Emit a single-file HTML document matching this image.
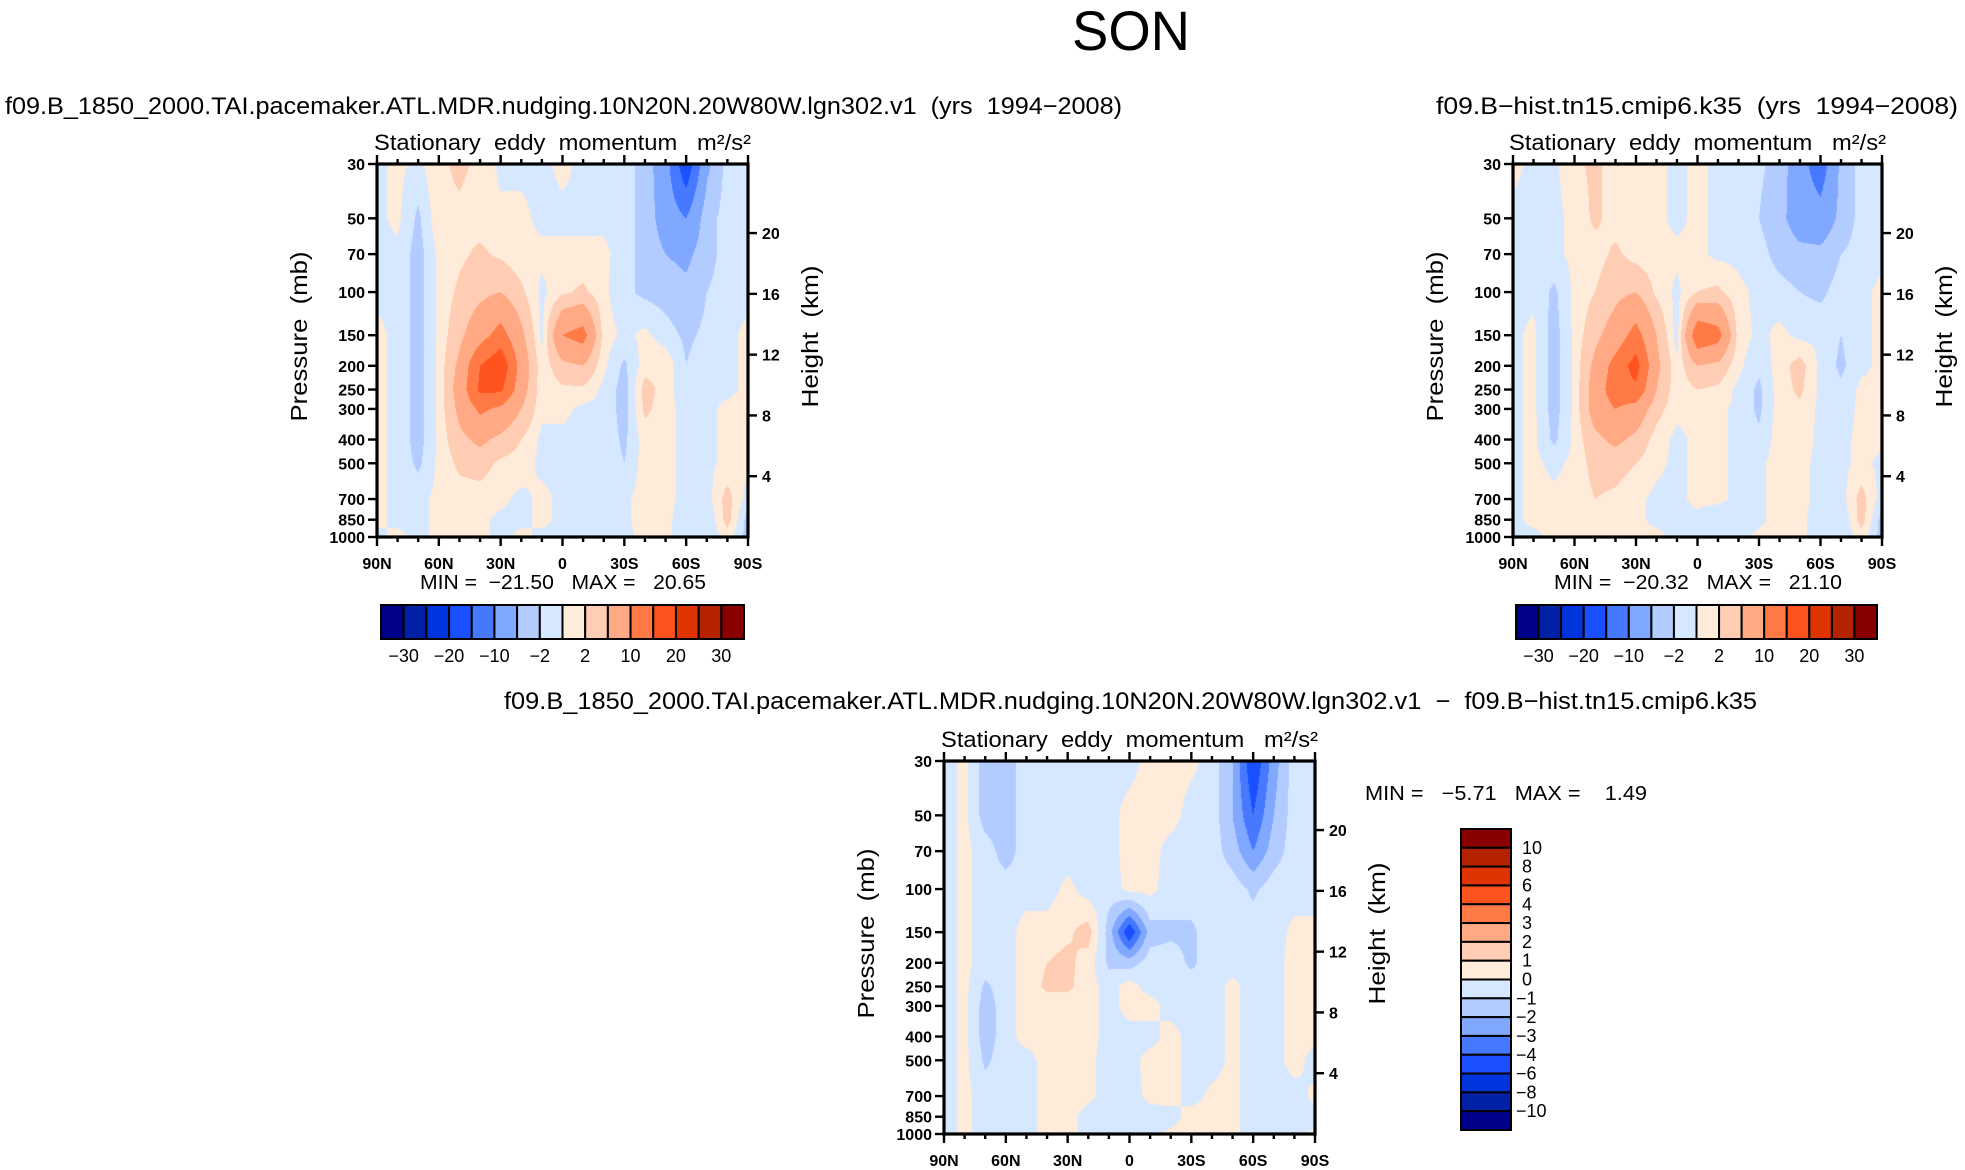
<!DOCTYPE html>
<html><head><meta charset="utf-8"><title>SON stationary eddy momentum</title>
<style>
html,body{margin:0;padding:0;background:#fff;}
#wrap{position:relative;width:1965px;height:1170px;overflow:hidden;background:#fff;}
canvas{position:absolute;}
svg{position:absolute;left:0;top:0;}
text{font-family:"Liberation Sans",sans-serif;fill:#000;white-space:pre;}
</style></head>
<body>
<div id="wrap">
<canvas id="c1" width="371" height="373" style="left:377px;top:164px"></canvas>
<canvas id="c2" width="369" height="373" style="left:1513px;top:164px"></canvas>
<canvas id="c3" width="371" height="373" style="left:944px;top:761px"></canvas>
<svg id="ov" width="1965" height="1170"></svg>
</div>
<script>
// ---------- data ----------
const lats = [90,80,70,60,50,40,30,20,10,0,-10,-20,-30,-40,-50,-60,-70,-80,-90];
const plev = [30,50,70,100,150,200,250,300,400,500,700,850,1000];
const presTicks = [30,50,70,100,150,200,250,300,400,500,700,850,1000];
const kmTicks = [4,8,12,16,20];
const latTickVals = [90,60,30,0,-30,-60,-90];
const latTickLabels = ["90N","60N","30N","0","30S","60S","90S"];
const absLevels = [-30,-25,-20,-15,-10,-5,-2,0,2,5,10,15,20,25,30];
const absLabels = ["\u221230","\u221220","\u221210","\u22122","2","10","20","30"];
const diffLevels = [-10,-8,-6,-4,-3,-2,-1,0,1,2,3,4,6,8,10];
const diffLabels = ["10","8","6","4","3","2","1","0","\u22121","\u22122","\u22123","\u22124","\u22126","\u22128","\u221210"];
const palette = ["#00008a","#0020a5","#0034dc","#1a50ff","#4679ff","#80a8ff","#b3ccff","#d6e8ff","#ffebd9","#ffcdb3","#ffaa85","#ff7a45","#ff531e","#e03400","#b52200","#8a0000"];

const field1 = [
[-0.5,0.5,-0.5,1.5,2.5,1.5,-0.5,-0.5,-0.5,0.5,-0.5,-0.5,-1,-3,-8,-19,-6,-1,-0.5],
[-0.5,0.5,-2.5,1.5,1.5,1,0.5,0.5,-0.5,-0.5,-0.5,-0.5,-1,-3,-7,-10,-3,-1,-0.5],
[-0.5,-0.5,-3,0.5,1.5,2.5,1.5,0.5,0.5,0.5,0.5,0.5,-1,-3,-5,-6,-3,-1,-0.5],
[-0.5,-0.5,-3,0.5,2.5,4,5,2.5,-0.5,1.5,2.5,0.5,-1.5,-2.5,-3,-4,-2,-1,-0.5],
[0.5,-0.5,-3,0.5,4,8,12,6,-0.5,10,12,1,-0.5,0.5,-1,-2.5,-1.5,-0.5,0.5],
[0.5,-0.5,-3,0.5,6,15,19,8,0.5,4,5,0.5,-2.5,1,1.5,-2,-0.5,-0.5,0.5],
[0.5,-0.5,-3,0.5,7,16,16,7,0.5,1.5,1.5,-0.5,-3,3,1,-1.5,-0.5,-0.5,0.5],
[0.5,-0.5,-3,0.5,6,11,9,5,0.5,0.5,-0.5,-0.5,-3,2.5,1,-1,-0.5,0.5,0.5],
[0.5,-0.5,-3,0.5,4,6,4,2,-0.5,-0.5,-0.5,-0.5,-2.5,1,0.5,-0.5,-0.5,0.5,0.5],
[0.5,-0.5,-2.5,0.5,2.5,3,1.5,1,-0.5,-0.5,-0.5,-0.5,-2,1,0.5,-0.5,-0.5,0.5,0.5],
[0.5,-0.5,-0.5,0.5,1,1,0.5,-0.5,0.5,-0.5,-0.5,-0.5,-0.5,1,0.5,-0.5,-1,3,-1],
[0.5,-0.5,-0.5,0.5,0.5,0.5,-0.5,-0.5,0.5,-0.5,-1.5,-1.5,-0.5,1,0.5,-1,-2,3,-3],
[-0.5,0.5,-0.5,0.5,0.5,0.5,-0.5,0.5,-0.5,-0.5,-0.5,-0.5,-0.5,0.5,0.5,-1,-2,1,-3]
];
const field2 = [
[0.5,-0.5,-0.5,1.5,2.5,1,0.5,0.5,-0.5,0.5,-0.5,-0.5,-1.5,-3,-8,-13,-4,-1,-0.5],
[-0.5,-0.5,-0.5,0.5,2.5,1,0.5,0.5,-0.5,0.5,-0.5,-0.5,-2,-4,-7,-8,-4,-1,-0.5],
[-0.5,-0.5,-0.5,0.5,1,2.5,1,0.5,0.5,0.5,-0.5,-0.5,-1,-3,-4,-4,-2,-1,-0.5],
[-0.5,-0.5,-2.5,0.5,2,4,5,1.5,-0.5,2,2.5,0.5,-0.5,-1,-2,-2.5,-1,-0.5,0.5],
[-0.5,0.5,-3,0.5,4,7,12,5,-1,14,12,1,-0.5,0.5,-0.5,-0.5,-2,-0.5,0.5],
[-0.5,0.5,-3,0.5,6,12,17,6,0.5,5,4,0.5,-1.5,1,3,-0.5,-2.5,-0.5,0.5],
[-0.5,0.5,-3,0.5,7,13,14,5,0.5,2,1.5,-0.5,-2.5,1,2.5,-0.5,-1.5,0.5,0.5],
[-0.5,0.5,-3,0.5,7,10,8,3,0.5,0.5,0.5,-0.5,-2.5,1,1.5,-0.5,-1,0.5,0.5],
[-0.5,0.5,-2.5,0.5,4,6,4,1,-0.5,0.5,0.5,-0.5,-1.5,1,1,-0.5,-0.5,0.5,0.5],
[-0.5,0.5,-0.5,0.5,3,3,2,0.5,-0.5,0.5,0.5,-0.5,-0.5,1,0.5,-0.5,-0.5,0.5,-0.5],
[-0.5,0.5,0.5,0.5,2,1.5,0.5,-0.5,-0.5,0.5,0.5,-0.5,-0.5,1,0.5,-0.5,-1,3,-1],
[-0.5,0.5,0.5,0.5,0.5,0.5,0.5,-0.5,-0.5,-0.5,-1.5,-1.5,-0.5,1,0.5,-1,-2,3,-3],
[-0.5,-0.5,0.5,0.5,0.5,0.5,0.5,0.5,-0.5,-0.5,-0.5,-0.5,0.5,0.5,0.5,-1,-2,1,-3]
];
const fieldDiff = [
[-0.5,0.3,-1.5,-1.5,-0.5,-0.5,-0.5,-0.5,-0.5,-0.5,0.5,0.5,0.3,-0.5,-2,-5,-2.5,-0.5,-0.5],
[-0.5,0.3,-1.5,-1.5,-0.5,-0.5,-0.5,-0.5,-0.5,0.5,0.5,0.5,-0.5,-0.5,-2,-4,-2,-0.5,-0.5],
[-0.5,0.3,-0.5,-1.5,-0.5,-0.5,-0.5,-0.5,-0.5,0.5,0.5,-0.5,-0.5,-0.5,-1.5,-3,-1.5,-0.5,-0.5],
[-0.5,0.3,-0.5,-0.5,-0.5,-0.5,0.3,-0.5,-0.5,0.3,0.3,-0.5,-0.5,-0.5,-0.5,-1.2,-0.5,-0.5,-0.5],
[-0.5,0.3,-0.5,-0.5,0.5,0.5,0.8,1.5,-1.5,-5,-1.5,-1.2,-1.2,-0.5,-0.5,-0.5,-0.5,0.3,0.3],
[-0.5,0.3,-0.5,-0.5,0.5,1,1.3,0.5,-1.2,-1.5,-0.5,-0.5,-1.2,-0.5,-0.5,-0.5,-0.5,0.5,0.3],
[-0.5,0.3,-1.2,-0.5,0.5,1.2,1.2,0.5,-0.5,0.5,-0.5,-0.5,-0.5,-0.5,0.3,-0.5,-0.5,0.5,0.3],
[-0.5,0.3,-1.5,-0.5,0.5,0.5,0.5,0.5,-0.5,0.5,0.5,-0.5,-0.5,-0.5,0.3,-0.5,-0.5,0.5,0.3],
[-0.5,0.3,-1.5,-0.5,0.5,0.5,0.5,0.5,-0.5,-0.5,-0.5,0.5,-0.5,-0.5,0.3,-0.5,-0.5,0.5,0.3],
[-0.5,0.3,-1.2,-0.5,-0.5,0.5,0.5,0.3,-0.5,-0.5,0.5,0.5,-0.5,-0.5,0.3,-0.5,-0.5,0.5,-0.5],
[-0.5,0.3,-0.5,-0.5,-0.5,0.5,0.5,0.3,-0.5,-0.5,0.3,0.5,-0.5,0.3,0.3,-0.5,-0.5,-0.5,0.3],
[-0.5,0.3,-0.5,-0.5,-0.5,0.5,0.5,-0.5,-0.5,-0.5,-0.5,-0.5,0.5,0.5,0.3,-0.5,-0.5,-0.5,-0.5],
[-0.5,0.3,-0.5,-0.5,-0.5,0.5,0.5,-0.5,-0.5,-0.5,-0.5,0.3,0.5,0.5,0.3,-0.5,-0.5,-0.5,0.3]
];

// ---------- helpers ----------
const NS = "http://www.w3.org/2000/svg";
const ov = document.getElementById("ov");
const LN30 = Math.log(30), LNR = Math.log(1000/30);
function el(tag, attrs, parent){
  const e = document.createElementNS(NS, tag);
  for (const k in attrs) e.setAttribute(k, attrs[k]);
  (parent||ov).appendChild(e);
  return e;
}
function hexRgb(h){return [parseInt(h.substr(1,2),16),parseInt(h.substr(3,2),16),parseInt(h.substr(5,2),16)];}
const palRgb = palette.map(hexRgb);
const plogs = plev.map(p=>Math.log(p));
function sample(field, lat, lp){
  let fi = (90-lat)/10; if(fi<0)fi=0; if(fi>18)fi=18;
  const i0 = Math.min(17, Math.floor(fi)); const tx = fi-i0;
  let j0 = 0;
  while(j0<plogs.length-2 && lp>plogs[j0+1]) j0++;
  let ty = (lp-plogs[j0])/(plogs[j0+1]-plogs[j0]); if(ty<0)ty=0; if(ty>1)ty=1;
  const a=field[j0][i0], b=field[j0][i0+1], c=field[j0+1][i0], d=field[j0+1][i0+1];
  return (a*(1-tx)+b*tx)*(1-ty)+(c*(1-tx)+d*tx)*ty;
}
function levelIndex(v, levels){let k=0; while(k<levels.length && v>levels[k]) k++; return k;}
function fillCanvas(id, field, levels){
  const cv = document.getElementById(id), ctx = cv.getContext("2d");
  const W=cv.width, H=cv.height, img=ctx.createImageData(W,H);
  for(let y=0;y<H;y++){
    const lp = LN30 + LNR*(y+0.5)/H;
    for(let x=0;x<W;x++){
      const lat = 90 - 180*(x+0.5)/W;
      const c = palRgb[levelIndex(sample(field,lat,lp),levels)];
      const o=(y*W+x)*4; img.data[o]=c[0];img.data[o+1]=c[1];img.data[o+2]=c[2];img.data[o+3]=255;
    }
  }
  ctx.putImageData(img,0,0);
}

function drawAxes(px, py, W, H, key){
  const xOf = lat => px + W*(90-lat)/180;
  const yOf = p => py + H*(Math.log(p)-LN30)/LNR;
  const g = el("g",{});
  
  
  for(let lat=90; lat>=-90; lat-=10){
    const major = (lat%30===0), len = major?9:5, x = xOf(lat);
    const t1 = el("line",{x1:x,y1:py,x2:x,y2:py-len,stroke:"#000","stroke-width":2.4},g);
    
    
    const t2 = el("line",{x1:x,y1:py+H,x2:x,y2:py+H+len,stroke:"#000","stroke-width":2.4},g);
    
    
  }
  latTickVals.forEach((lat,i)=>{
    const t = el("text",{x:xOf(lat),y:py+H+32,"text-anchor":"middle","font-size":16,"font-weight":"bold"},g);
    t.textContent = latTickLabels[i];
    
    
  });
  presTicks.forEach(p=>{
    const y=yOf(p);
    const t = el("line",{x1:px,y1:y,x2:px-9,y2:y,stroke:"#000","stroke-width":2.4},g);
    
    
    const l = el("text",{x:px-12,y:y+6,"text-anchor":"end","font-size":16,"font-weight":"bold"},g);
    l.textContent = p;
    
    
  });
  kmTicks.forEach(z=>{
    const y=yOf(1000*Math.exp(-z/7));
    const t = el("line",{x1:px+W,y1:y,x2:px+W+9,y2:y,stroke:"#000","stroke-width":2.4},g);
    
    
    const l = el("text",{x:px+W+14,y:y+6,"font-size":16,"font-weight":"bold"},g);
    l.textContent = z;
    
    
  });
  const fr = el("rect",{x:px,y:py,width:W,height:H,fill:"none",stroke:"#000","stroke-width":3.2},g);
  
  
  const tt = el("text",{x:px+W/2,y:py-14,"text-anchor":"middle","font-size":22,textLength:377,lengthAdjust:"spacingAndGlyphs"},g);
  tt.textContent = "Stationary  eddy  momentum   m\u00b2/s\u00b2";
  
  
  const yl = el("text",{x:0,y:0,"text-anchor":"middle","font-size":23,transform:"translate("+(px-70)+","+(py+H/2-14)+") rotate(-90)",textLength:170,lengthAdjust:"spacingAndGlyphs"},g);
  yl.textContent = "Pressure  (mb)";
  
  
  const hl = el("text",{x:0,y:0,"text-anchor":"middle","font-size":23,transform:"translate("+(px+W+70)+","+(py+H/2-14)+") rotate(-90)",textLength:142,lengthAdjust:"spacingAndGlyphs"},g);
  hl.textContent = "Height  (km)";
  
  
}

function hColorbar(x0, y0, w, h, key){
  const bw = w/palette.length;
  palette.forEach((c,i)=>{
    const r = el("rect",{x:x0+i*bw,y:y0,width:bw,height:h,fill:c,stroke:"#000","stroke-width":2});
    
    
  });
  absLabels.forEach((s,i)=>{
    const t = el("text",{x:x0+(2*i+1)*bw,y:y0+h+23,"text-anchor":"middle","font-size":18});
    t.textContent = s;
    
    
  });
}
function txt(s, attrs, name){
  const t = el("text", attrs);
  t.textContent = s;
  
  
  return t;
}

// ---------- draw ----------
fillCanvas("c1", field1, absLevels);
fillCanvas("c2", field2, absLevels);
fillCanvas("c3", fieldDiff, diffLevels);

txt("SON",{x:1131,y:50,"text-anchor":"middle","font-size":56,textLength:118,lengthAdjust:"spacingAndGlyphs"},"figure-title");
txt("f09.B_1850_2000.TAI.pacemaker.ATL.MDR.nudging.10N20N.20W80W.lgn302.v1  (yrs  1994\u22122008)",{x:5,y:114,"font-size":24,textLength:1117,lengthAdjust:"spacingAndGlyphs"},"panel1-subtitle");
txt("f09.B\u2212hist.tn15.cmip6.k35  (yrs  1994\u22122008)",{x:1436,y:114,"font-size":24,textLength:522,lengthAdjust:"spacingAndGlyphs"},"panel2-subtitle");
txt("f09.B_1850_2000.TAI.pacemaker.ATL.MDR.nudging.10N20N.20W80W.lgn302.v1  \u2212  f09.B\u2212hist.tn15.cmip6.k35",{x:504,y:709,"font-size":24,textLength:1253,lengthAdjust:"spacingAndGlyphs"},"difference-subtitle");

drawAxes(377,164,371,373,"panel1");
drawAxes(1513,164,369,373,"panel2");
drawAxes(944,761,371,373,"difference");

txt("MIN =  \u221221.50   MAX =   20.65",{x:420,y:589,"font-size":20,textLength:286,lengthAdjust:"spacingAndGlyphs"},"panel1-min-max");
txt("MIN =  \u221220.32   MAX =   21.10",{x:1554,y:589,"font-size":20,textLength:288,lengthAdjust:"spacingAndGlyphs"},"panel2-min-max");
txt("MIN =   \u22125.71   MAX =    1.49",{x:1365,y:800,"font-size":20,textLength:282,lengthAdjust:"spacingAndGlyphs"},"difference-min-max");

hColorbar(381,605,363,34,"panel1");
hColorbar(1516,605,361,34,"panel2");

// vertical colorbar for difference (red on top)
(function(){
  const x0=1461, y0=829, w=50, h=301, bh=h/palette.length;
  for(let i=0;i<palette.length;i++){
    const r = el("rect",{x:x0,y:y0+i*bh,width:w,height:bh,fill:palette[palette.length-1-i],stroke:"#000","stroke-width":2});
    
    
  }
  diffLabels.forEach((s,i)=>{
    const t = el("text",{x:x0+w+(s.length>2||s.charAt(0)==="\u2212"?5:11),y:y0+(i+1)*bh+6,"font-size":18});
    t.textContent = s;
    
    
  });
})();
</script>
</body></html>
